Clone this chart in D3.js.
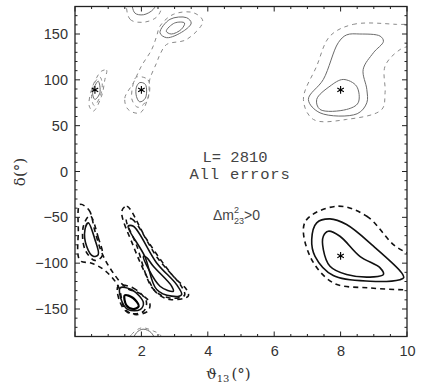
<!DOCTYPE html>
<html>
<head>
<meta charset="utf-8">
<script src="https://cdn.jsdelivr.net/npm/d3@7"></script>
<style>
  body { margin: 0; background: #fff; }
  svg { display: block; }
</style>
</head>
<body>
<svg id="chart" width="436" height="389"></svg>
<script>
// ---- data (theta13 in degrees, delta in degrees) ----
const xTicks = [2, 4, 6, 8, 10];
const yTicks = [-150, -100, -50, 0, 50, 100, 150];
const bestFits = [[0.6, 89], [2.0, 89], [8.0, 89], [8.0, -92]];

// upper half (grey) contours
const urOuter = [[7.68,147.7],[8.38,160.5],[9.69,160.5],[10.4,158],[10.4,142],[9.79,133],[9.34,115],[9.34,86],[9.24,67.7],[8.18,56.8],[7.18,56.8],[6.88,78.6],[7.28,115]];
const urMid = [[8.18,149],[8.58,150],[9.19,147.7],[9.29,142],[8.99,129.6],[8.68,111.4],[8.79,89.5],[8.79,75],[8.5,63],[7.38,64],[7.03,78.6],[7.48,100.4],[7.93,140.5]];
const urInner = [[8.08,100.4],[8.48,93.1],[8.53,75],[8.18,67.7],[7.38,67.7],[7.28,78.6],[7.68,93.1]];
const aOuter = [[0.80,109.5],[0.95,110.6],[0.90,100.4],[0.80,82.2],[0.55,65.8],[0.43,71.3],[0.47,85.9],[0.65,102.3]];
const aMid = [[0.75,103],[0.82,96],[0.76,82],[0.58,72],[0.5,80],[0.58,96]];
const aInner = [[0.70,98.6],[0.75,85.9],[0.60,78.6],[0.53,85.9]];
const bOuter = [[1.6,67.7],[1.5,80],[1.76,96.8],[2.0,115],[2.31,133],[2.46,147.7],[2.56,158.6],[2.96,171.4],[3.56,173.3],[3.85,164],[3.36,144],[2.76,138.6],[2.56,127.7],[2.46,118.7],[2.25,100],[2.21,82.2],[1.96,64]];
const bMid = [[1.85,103],[2.2,100],[2.2,80],[1.9,70],[1.72,78],[1.75,95]];
const bInner = [[1.95,97],[2.12,95],[2.12,80],[1.95,76],[1.85,82],[1.85,92]];
const tOuter = [[2.56,151.4],[2.86,166],[3.36,167.8],[3.5,162],[3.26,153],[2.76,146]];
const tInner = [[2.75,153],[3.0,162],[3.3,162],[3.2,155],[2.9,150]];
const topSolid = [[1.75,186],[1.8,173],[2.06,171],[2.36,177],[2.45,186]];
const topDash = [[1.6,186],[1.66,166],[2.1,163],[2.5,170],[2.6,186]];
const botSolid = [[1.75,-186],[1.85,-176],[2.05,-172],[2.3,-176],[2.4,-186]];
const botDash = [[1.6,-186],[1.7,-178],[2.0,-170.6],[2.36,-174],[2.56,-178],[2.65,-186]];

// lower half (black) contours
const lrOuter = [[7.88,-37.9],[8.79,-48.8],[9.6,-80],[10.4,-100],[10.4,-129],[9.9,-129],[8.89,-127],[7.78,-121.5],[7.08,-92.5],[6.93,-55]];
const lrMid = [[7.28,-56],[7.68,-51.7],[8.18,-57.9],[8.99,-81.5],[9.84,-110.6],[9.9,-116],[9.79,-118],[8.89,-119.7],[7.78,-113.5],[7.23,-92.5],[7.13,-74.2]];
const lrInner = [[7.63,-65.1],[7.98,-70.6],[8.58,-92.5],[9.19,-105.1],[9.29,-112.4],[8.99,-115],[8.18,-112.4],[7.68,-103.4],[7.48,-85.2],[7.48,-70.6]];
const cOuter = [[0.15,-36],[0.42,-42],[0.6,-65],[0.8,-88],[1.1,-108],[1.55,-127],[1.95,-133],[2.25,-143],[2.2,-152],[1.8,-156],[1.5,-150],[1.3,-125],[0.9,-108],[0.5,-100],[0.15,-97],[0.1,-65]];
const c1Dash = [[0.45,-48],[0.7,-72],[0.82,-92],[0.6,-97],[0.3,-85],[0.25,-60]];
const c1Solid = [[0.4,-56],[0.6,-74.2],[0.7,-90.6],[0.55,-92.5],[0.35,-81.5],[0.3,-63.3]];
const c2Dash = [[1.3,-125],[1.75,-127],[2.15,-142],[2.05,-153],[1.6,-154],[1.35,-142]];
const c2Solid = [[1.36,-127],[1.7,-128.8],[2.06,-143],[1.96,-150.7],[1.6,-150.7],[1.41,-141.6]];
const c2Inner = [[1.5,-135],[1.75,-138],[1.92,-147],[1.75,-150],[1.55,-146]];
const dOuter = [[1.41,-43.3],[1.56,-37.9],[2.16,-74.2],[2.96,-114.3],[3.36,-128.8],[3.41,-136],[2.86,-139.7],[2.46,-132.4],[2.16,-114.3],[1.76,-81.5]];
const dDash = [[1.55,-52],[1.72,-52],[2.5,-95],[3.2,-125],[3.3,-135],[2.85,-138],[2.35,-128],[1.85,-80]];
const dMid = [[1.6,-59.7],[1.76,-59.7],[2.46,-99.7],[3.06,-123.4],[3.21,-134.3],[2.91,-136],[2.46,-128.8],[2.1,-92.5]];
const dInner = [[2.06,-92.5],[2.16,-94],[2.36,-103.4],[2.91,-125],[2.96,-130.7],[2.56,-125.2]];

// ---- drawing ----
const svg = d3.select("#chart");
const x = d3.scaleLinear().domain([0, 10]).range([75, 407]);
const y = d3.scaleLinear().domain([-180, 180]).range([336.5, 6.5]);

svg.append("clipPath").attr("id", "clip").append("rect")
  .attr("x", 75).attr("y", 6.5).attr("width", 332).attr("height", 330);

const line = d3.line().x(d => x(d[0])).y(d => y(d[1])).curve(d3.curveCatmullRomClosed.alpha(0.5));

const styles = {
  greySolid: { stroke: "#6a6a6a", w: 1.0, dash: null },
  greyDash:  { stroke: "#8a8a8a", w: 1.0, dash: "4,4" },
  blackSolid:{ stroke: "#111", w: 1.6, dash: null },
  blackThick:{ stroke: "#000", w: 2.2, dash: null },
  blackDash: { stroke: "#111", w: 1.6, dash: "5,4" }
};
const layers = [
  [urOuter,"greyDash"],[urMid,"greySolid"],[urInner,"greySolid"],
  [aOuter,"greyDash"],[aMid,"greyDash"],[aInner,"greySolid"],
  [bOuter,"greyDash"],[bMid,"greyDash"],[bInner,"greySolid"],
  [tOuter,"greySolid"],[tInner,"greySolid"],
  [topDash,"greyDash"],[topSolid,"greySolid"],[botDash,"greyDash"],[botSolid,"greySolid"],
  [lrOuter,"blackDash"],[lrMid,"blackSolid"],[lrInner,"blackSolid"],
  [cOuter,"blackDash"],[c1Dash,"blackDash"],[c1Solid,"blackSolid"],
  [c2Dash,"blackDash"],[c2Solid,"blackSolid"],[c2Inner,"blackThick"],
  [dOuter,"blackDash"],[dDash,"blackDash"],[dMid,"blackSolid"],[dInner,"blackSolid"]
];
const g = svg.append("g").attr("clip-path", "url(#clip)");
layers.forEach(([pts, st]) => {
  const s = styles[st];
  g.append("path").attr("d", line(pts)).attr("fill", "none")
    .attr("stroke", s.stroke).attr("stroke-width", s.w)
    .attr("stroke-dasharray", s.dash);
});

// best-fit stars
const sym = d3.symbol().type(d3.symbolAsterisk || d3.symbolCross).size(40);
g.selectAll(".star").data(bestFits).join("path")
  .attr("transform", d => `translate(${x(d[0])},${y(d[1])})`)
  .attr("d", sym).attr("fill", "none").attr("stroke", "#000").attr("stroke-width", 1.1);

// frame
svg.append("rect").attr("x", 75).attr("y", 6.5).attr("width", 332).attr("height", 330)
  .attr("fill", "none").attr("stroke", "#222").attr("stroke-width", 1.3);

// minor ticks
const xMinor = d3.range(0, 10.01, 0.5);
const yMinor = d3.range(-180, 180.01, 10);
const tk = svg.append("g").attr("stroke", "#222").attr("stroke-width", 1);
xMinor.forEach(v => {
  const big = Math.abs(v % 2) < 1e-6;
  const L = big ? 5 : 2.5;
  tk.append("line").attr("x1", x(v)).attr("x2", x(v)).attr("y1", 336.5).attr("y2", 336.5 - L);
  tk.append("line").attr("x1", x(v)).attr("x2", x(v)).attr("y1", 6.5).attr("y2", 6.5 + L);
});
yMinor.forEach(v => {
  const big = Math.abs(v % 50) < 1e-6;
  const L = big ? 5 : 2.5;
  tk.append("line").attr("x1", 75).attr("x2", 75 + L).attr("y1", y(v)).attr("y2", y(v));
  tk.append("line").attr("x1", 407).attr("x2", 407 - L).attr("y1", y(v)).attr("y2", y(v));
});

// axes (labels)
const fmt = d => d < 0 ? "\u2212" + Math.abs(d) : String(d);
const ax = svg.append("g").attr("transform", "translate(0,336.5)")
  .call(d3.axisBottom(x).tickValues(xTicks).tickSize(0).tickPadding(9).tickFormat(fmt));
const ay = svg.append("g").attr("transform", "translate(75,0)")
  .call(d3.axisLeft(y).tickValues(yTicks).tickSize(0).tickPadding(7).tickFormat(fmt));
[ax, ay].forEach(a => {
  a.select(".domain").remove();
  a.selectAll("text").attr("font-family", "Liberation Sans, Arial, sans-serif")
    .attr("font-size", 14.5).attr("fill", "#333");
});

// axis titles
svg.append("text").attr("transform", "translate(25,172) rotate(-90)")
  .attr("text-anchor", "middle").attr("font-family", "DejaVu Serif, serif")
  .attr("font-size", 15).attr("fill", "#333").text("\u03B4(\u00B0)");
const xt = svg.append("text").attr("x", 206).attr("y", 379)
  .attr("font-family", "DejaVu Serif, serif").attr("font-size", 15).attr("fill", "#333");
xt.append("tspan").text("\u03D1");
xt.append("tspan").attr("font-size", 10).attr("dy", 3).text("13");
xt.append("tspan").attr("dy", -3).attr("dx", 2).text("(\u00B0)");

// annotations
const ann = svg.append("g").attr("font-family", "Liberation Mono, Courier New, monospace")
  .attr("fill", "#444").attr("font-size", 15.5).attr("text-anchor", "middle");
ann.append("text").attr("x", 235).attr("y", 162).text("L= 2810");
ann.append("text").attr("x", 240).attr("y", 179).attr("letter-spacing", 0.8).text("All errors");
const dm = svg.append("text").attr("x", 213).attr("y", 220)
  .attr("font-family", "Liberation Sans, Arial, sans-serif").attr("font-size", 14).attr("fill", "#444");
dm.append("tspan").text("\u0394m");
dm.append("tspan").attr("font-size", 9).attr("dy", -7).text("2");
dm.append("tspan").attr("font-size", 9).attr("dy", 11).attr("dx", -5).text("23");
dm.append("tspan").attr("dy", -4).text(">0");
</script>
</body>
</html>
